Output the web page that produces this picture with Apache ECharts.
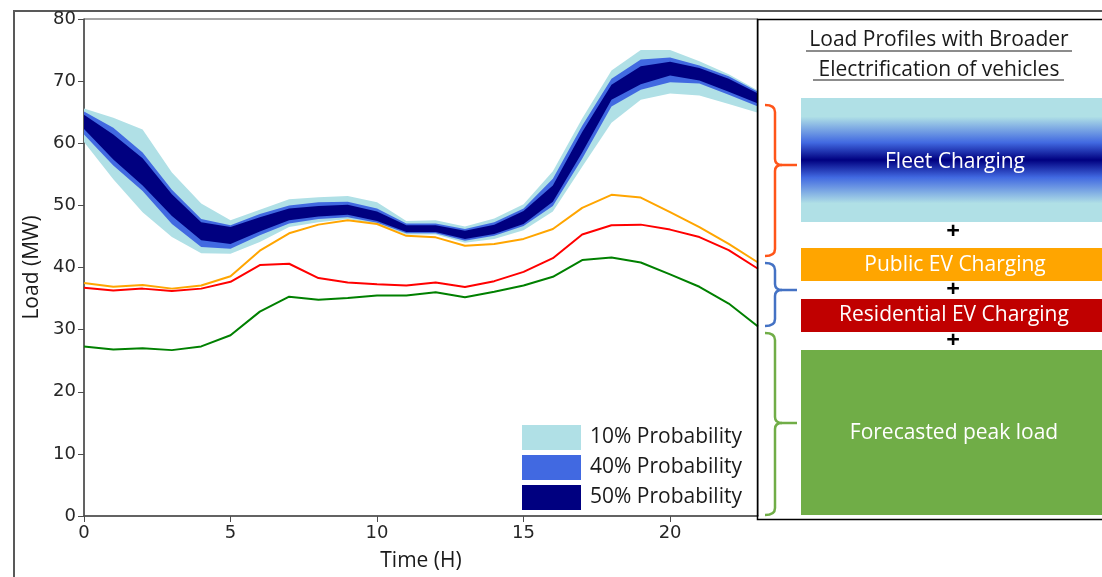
<!DOCTYPE html>
<html>
<head>
<meta charset="utf-8">
<script src="https://cdn.jsdelivr.net/npm/echarts@6/dist/echarts.min.js"></script>
<style>
  html, body { margin: 0; padding: 0; background: #fff; }
  #chart { width: 1102px; height: 577px; }
</style>
</head>
<body>
<div id="chart"></div>
<script>
// hour of day
var hours = [0, 1, 2, 3, 4, 5, 6, 7, 8, 9, 10, 11, 12, 13, 14, 15, 16, 17, 18, 19, 20, 21, 22, 23];
var xTickStep = 5;

// fleet charging bands (MW)
var p10Low  = [60.2, 54.2, 48.9, 44.9, 42.3, 42.2, 44.1, 46.5, 47.3, 47.8, 47.0, 45.3, 45.3, 44.0, 44.6, 46.0, 49.0, 56.2, 63.3, 67.0, 68.0, 67.7, 66.3, 64.9];
var p10High = [65.6, 64.1, 62.2, 55.3, 50.3, 47.6, 49.3, 51.0, 51.3, 51.5, 50.5, 47.5, 47.6, 46.6, 47.9, 50.2, 55.5, 64.0, 71.7, 75.0, 75.0, 73.2, 71.1, 68.5];
var p40Low  = [61.4, 56.4, 52.3, 47.0, 43.3, 43.0, 45.2, 47.1, 47.8, 48.1, 47.2, 45.5, 45.5, 44.3, 45.1, 46.7, 49.9, 57.5, 65.9, 68.6, 69.8, 69.6, 67.8, 65.9];
var p40High = [65.1, 62.5, 58.5, 52.5, 47.8, 46.8, 48.6, 50.0, 50.5, 50.6, 49.5, 47.1, 47.1, 46.2, 47.3, 49.5, 54.3, 62.8, 70.4, 73.5, 73.8, 72.5, 70.8, 68.3];
var p50Low  = [62.3, 57.4, 53.2, 48.3, 44.4, 43.8, 45.8, 47.6, 48.2, 48.5, 47.5, 45.7, 45.7, 44.6, 45.4, 47.0, 50.6, 58.5, 67.0, 69.5, 70.9, 70.1, 68.3, 66.4];
var p50High = [64.6, 61.4, 57.6, 51.8, 47.3, 46.5, 48.1, 49.5, 49.9, 50.1, 49.0, 46.8, 46.8, 45.9, 46.9, 49.1, 53.2, 61.8, 69.4, 72.4, 73.1, 72.1, 70.4, 68.0];

// single profiles (MW)
var publicEV    = [37.5, 36.9, 37.2, 36.6, 37.1, 38.6, 42.7, 45.5, 46.9, 47.6, 47.0, 45.1, 44.85, 43.5, 43.8, 44.6, 46.2, 49.6, 51.7, 51.25, 48.9, 46.5, 43.8, 40.8];
var residential = [36.75, 36.3, 36.6, 36.2, 36.6, 37.7, 40.4, 40.6, 38.3, 37.6, 37.3, 37.1, 37.6, 36.85, 37.8, 39.3, 41.5, 45.3, 46.8, 46.9, 46.1, 44.9, 42.8, 39.8];
var forecast    = [27.3, 26.8, 27.0, 26.7, 27.3, 29.1, 32.9, 35.3, 34.8, 35.1, 35.5, 35.5, 36.0, 35.2, 36.1, 37.1, 38.5, 41.2, 41.6, 40.8, 38.9, 36.9, 34.2, 30.5];

var bandNames = ['10% Probability', '40% Probability', '50% Probability'];
var bandColors = ['#B0E0E6', '#4169E1', '#000080'];

function diff(hi, lo) {
  return hi.map(function(v, i) { return +(v - lo[i]).toFixed(2); });
}

var series = [];
[[p10Low, p10High], [p40Low, p40High], [p50Low, p50High]].forEach(function(b, k) {
  series.push({
    type: 'line', stack: 'band' + k, data: b[0], symbol: 'none',
    lineStyle: { opacity: 0 }, silent: true, z: 2
  });
  series.push({
    name: bandNames[k], type: 'line', stack: 'band' + k, data: diff(b[1], b[0]), symbol: 'none',
    lineStyle: { width: 0, color: bandColors[k] }, itemStyle: { color: bandColors[k] },
    areaStyle: { color: bandColors[k], opacity: 1 }, silent: true, z: 2
  });
});
[[publicEV, '#FFA500'], [residential, '#FF0000'], [forecast, '#008000']].forEach(function(s) {
  series.push({
    type: 'line', data: s[0], symbol: 'none', z: 3,
    lineStyle: { width: 2, color: s[1] }
  });
});

// right-hand explanation panel
var panelFont = '21px "Open Sans"';
function txt(x, y, s, color, font) {
  return { type: 'text', x: x, y: y, z: 10,
    style: { text: s, fill: color, font: font || panelFont, textAlign: 'center', textVerticalAlign: 'middle' } };
}
function seg(x1, y1, x2, y2, color) {
  return { type: 'line', z: 10, shape: { x1: x1, y1: y1, x2: x2, y2: y2 },
    style: { stroke: color, lineWidth: 2.5 } };
}
function curve(x1, y1, cx, cy, x2, y2, color) {
  return { type: 'bezierCurve', z: 10, shape: { x1: x1, y1: y1, cpx1: cx, cpy1: cy, x2: x2, y2: y2 },
    style: { fill: null, stroke: color, lineWidth: 2.5 } };
}
function brace(y0, ym, y1, color) {
  return [
    curve(765, y0, 775, y0, 775, y0 + 7, color),
    seg(775, y0 + 7, 775, ym - 6, color),
    curve(775, ym - 6, 775, ym, 782, ym, color),
    seg(782, ym, 797, ym, color),
    curve(782, ym, 775, ym, 775, ym + 6, color),
    seg(775, ym + 6, 775, y1 - 7, color),
    curve(775, y1 - 7, 775, y1, 765, y1, color)
  ];
}
var fleetFill = new echarts.graphic.LinearGradient(0, 0, 0, 1, [
  { offset: 0, color: '#B0E0E6' }, { offset: 0.15, color: '#B0E0E6' },
  { offset: 0.36, color: '#4169E1' }, { offset: 0.5, color: '#000080' },
  { offset: 0.64, color: '#4169E1' }, { offset: 0.85, color: '#B0E0E6' },
  { offset: 1, color: '#B0E0E6' }
]);

var graphics = [
  { type: 'rect', z: 0, shape: { x: 14, y: 11, width: 1200, height: 700 },
    style: { fill: null, stroke: '#595959', lineWidth: 2 } },
  { type: 'rect', z: 10, shape: { x: 757.5, y: 19.5, width: 400, height: 500 },
    style: { fill: null, stroke: '#000', lineWidth: 1.5 } },
  txt(939, 40, 'Load Profiles with Broader', '#1a1a1a'),
  txt(939, 70, 'Electrification of vehicles', '#1a1a1a'),
  { type: 'line', z: 10, shape: { x1: 806, y1: 51, x2: 1072, y2: 51 }, style: { stroke: '#1a1a1a', lineWidth: 1.2 } },
  { type: 'line', z: 10, shape: { x1: 813, y1: 80, x2: 1064, y2: 80 }, style: { stroke: '#1a1a1a', lineWidth: 1.2 } },
  { type: 'rect', z: 9, shape: { x: 801, y: 98, width: 320, height: 124 }, style: { fill: fleetFill } },
  { type: 'rect', z: 9, shape: { x: 801, y: 248, width: 320, height: 33 }, style: { fill: '#FFA500' } },
  { type: 'rect', z: 9, shape: { x: 801, y: 299, width: 320, height: 33 }, style: { fill: '#C00000' } },
  { type: 'rect', z: 9, shape: { x: 801, y: 350, width: 320, height: 165 }, style: { fill: '#70AD47' } },
  txt(955, 162, 'Fleet Charging', '#fff'),
  txt(955, 265, 'Public EV Charging', '#fff'),
  txt(954, 315, 'Residential EV Charging', '#fff'),
  txt(954, 433, 'Forecasted peak load', '#fff'),
  txt(953, 232, '+', '#000', 'bold 24px "Open Sans"'),
  txt(953, 290, '+', '#000', 'bold 24px "Open Sans"'),
  txt(953, 341, '+', '#000', 'bold 24px "Open Sans"')
].concat(brace(105, 165, 256, '#FF5519'), brace(263, 290, 326, '#4472C4'), brace(333, 423, 515, '#70AD47'));

function onStep(index) { return index % xTickStep === 0; }

var chart = echarts.init(document.getElementById('chart'));
chart.setOption({
  animation: false,
  backgroundColor: '#fff',
  grid: { left: 84, top: 19, right: 344, bottom: 58, show: true, borderColor: '#4d4d4d', borderWidth: 1 },
  legend: {
    orient: 'vertical', left: 517, top: 420, itemWidth: 59, itemHeight: 25, itemGap: 5,
    icon: 'rect', z: 20,
    textStyle: { fontFamily: 'Open Sans', fontSize: 21, color: '#1a1a1a', padding: [0, 0, 0, 4] },
    data: bandNames.map(function(n, k) { return { name: n, itemStyle: { color: bandColors[k] } }; })
  },
  xAxis: {
    type: 'category', data: hours, boundaryGap: false,
    name: 'Time (H)', nameLocation: 'middle', nameGap: 35,
    nameTextStyle: { fontFamily: 'Open Sans', fontSize: 21, color: '#1a1a1a' },
    axisLine: { lineStyle: { color: '#4d4d4d', width: 1.5 } },
    axisTick: { length: 6, lineStyle: { color: '#4d4d4d' }, interval: onStep },
    axisLabel: { fontFamily: 'DejaVu Sans', fontSize: 18, color: '#262626', margin: 8, interval: onStep },
    splitLine: { show: false }
  },
  yAxis: {
    type: 'value', min: 0, max: 80, interval: 10,
    name: 'Load (MW)', nameLocation: 'middle', nameGap: 41,
    nameTextStyle: { fontFamily: 'Open Sans', fontSize: 21, color: '#1a1a1a' },
    axisLine: { show: true, lineStyle: { color: '#4d4d4d', width: 1.5 } },
    axisTick: { show: true, length: 6, lineStyle: { color: '#4d4d4d' } },
    axisLabel: { fontFamily: 'DejaVu Sans', fontSize: 18, color: '#262626', margin: 8 },
    splitLine: { show: false }
  },
  series: series,
  graphic: graphics
});
</script>
</body>
</html>
